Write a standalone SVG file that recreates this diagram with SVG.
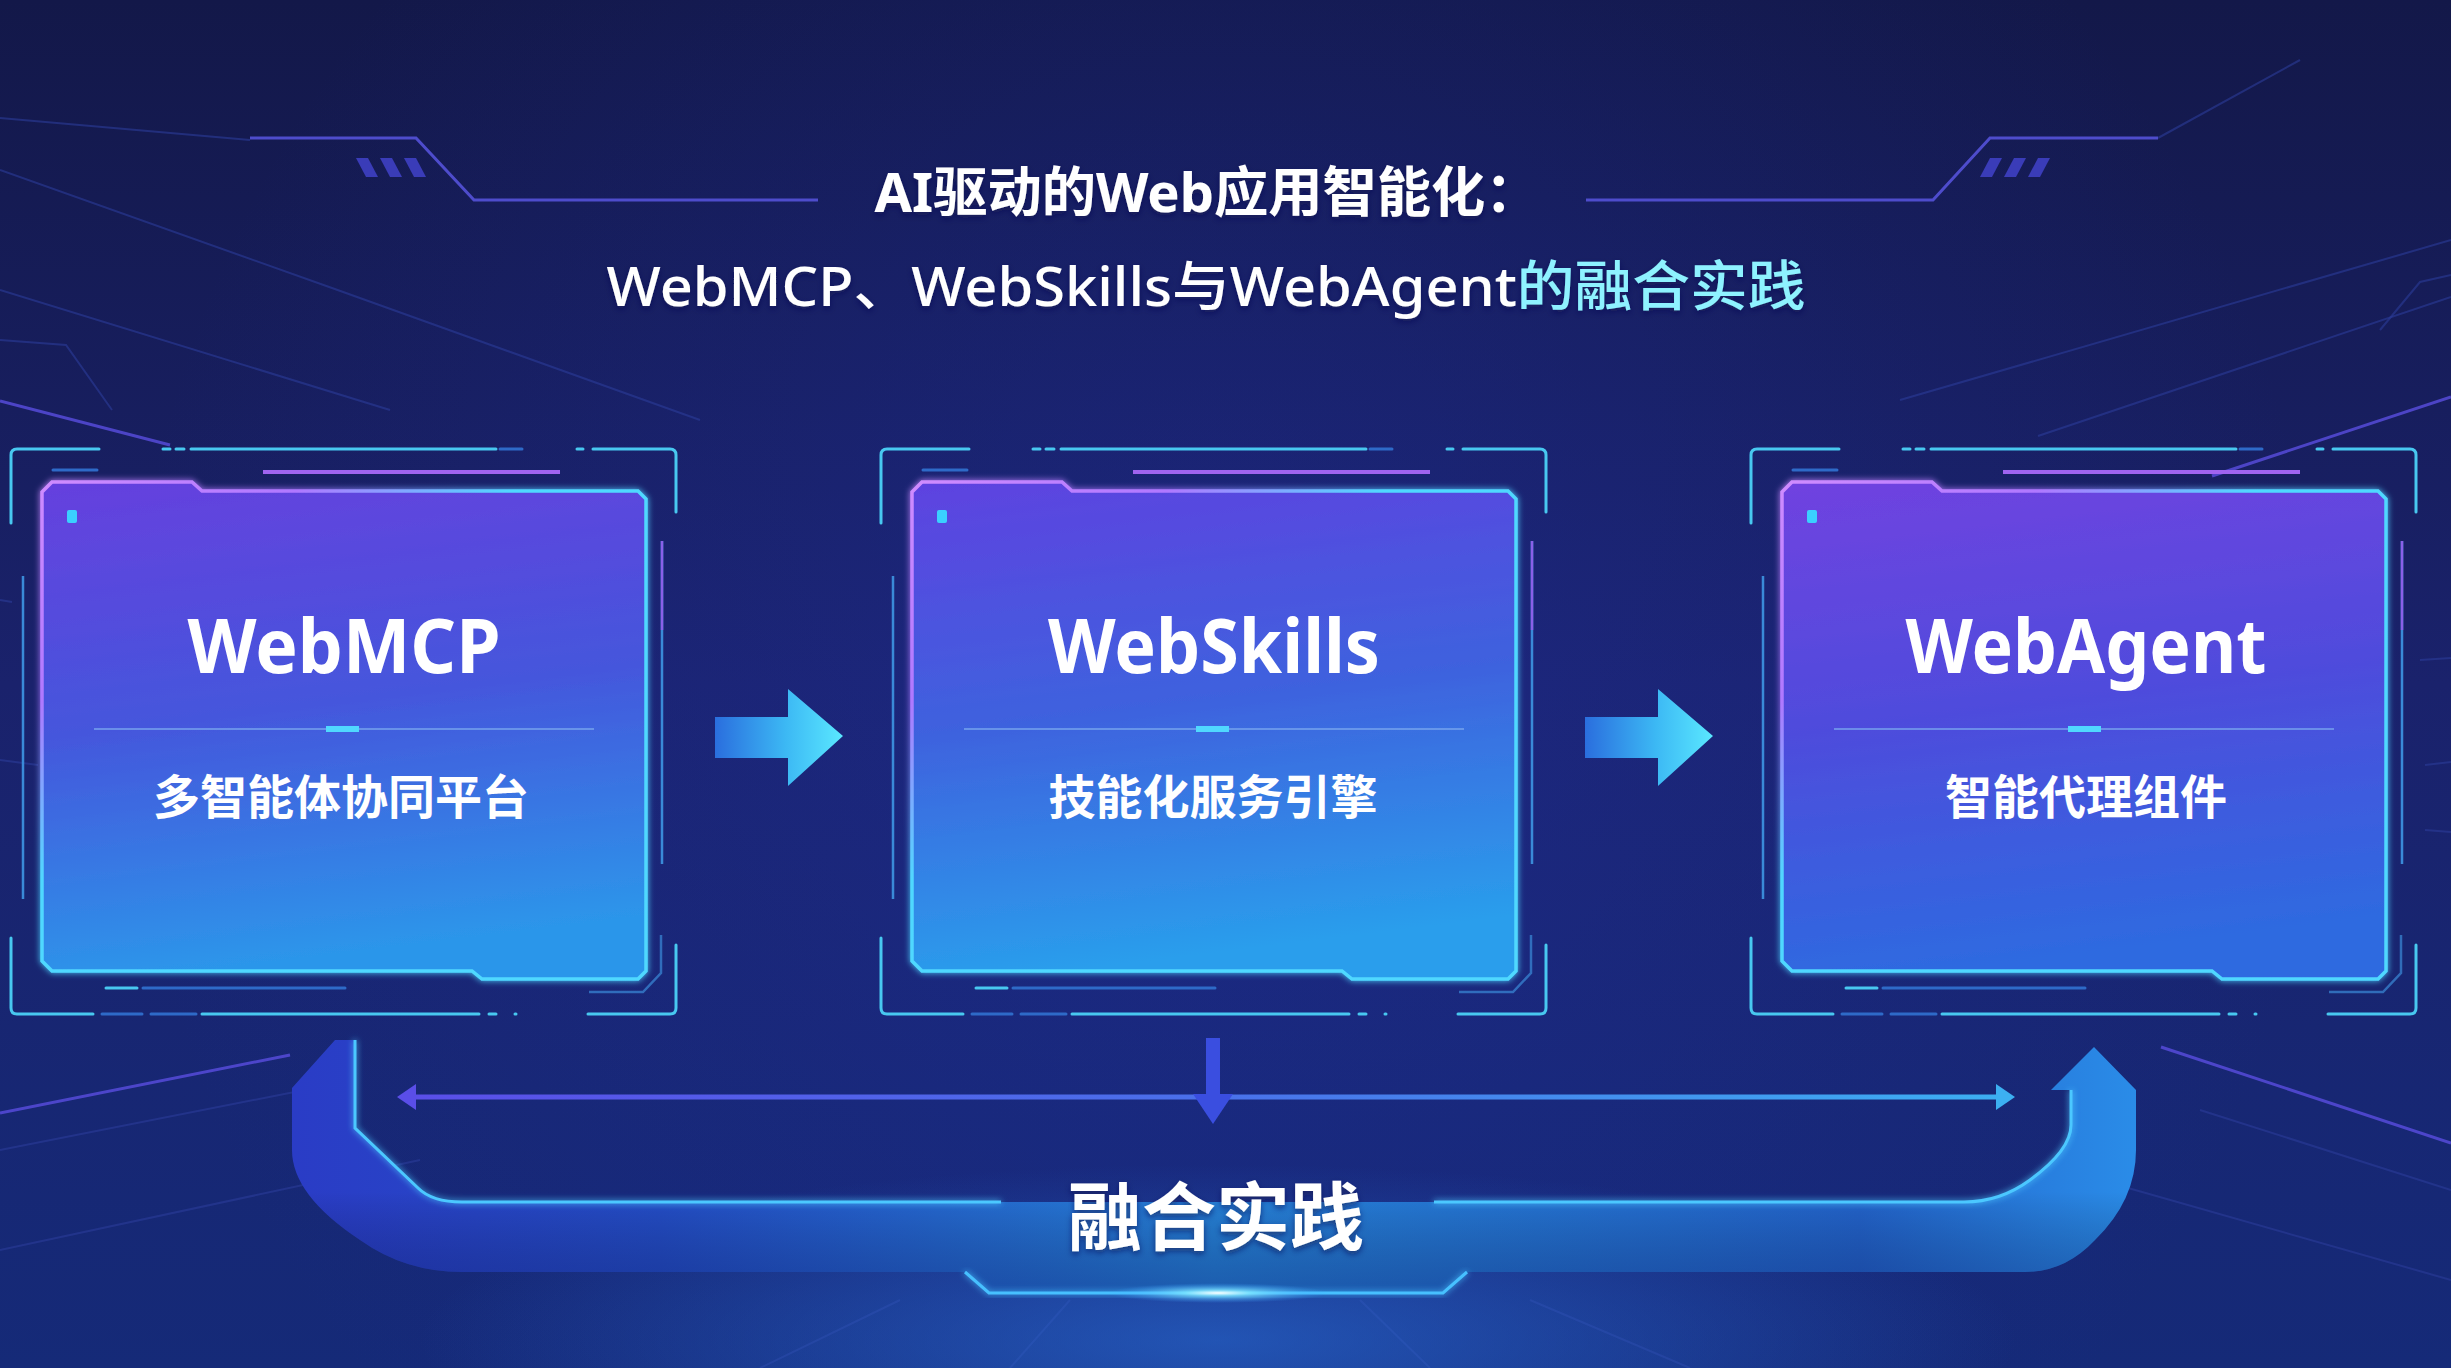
<svg xmlns="http://www.w3.org/2000/svg" width="2451" height="1368" viewBox="0 0 2451 1368">
<defs>
<linearGradient id="bg" x1="0" y1="0" x2="0" y2="1">
<stop offset="0" stop-color="#131849"/>
<stop offset="0.5" stop-color="#1a226c"/>
<stop offset="1" stop-color="#152a78"/>
</linearGradient>
<radialGradient id="bgGlow" cx="1225" cy="700" r="1100" gradientUnits="userSpaceOnUse">
<stop offset="0" stop-color="#2030a0" stop-opacity="0.4"/>
<stop offset="1" stop-color="#2030a0" stop-opacity="0"/>
</radialGradient>
<radialGradient id="floorGlow" cx="1218" cy="1340" r="800" gradientUnits="userSpaceOnUse" gradientTransform="translate(1218 1340) scale(1 0.22) translate(-1218 -1340)">
<stop offset="0" stop-color="#2a70d8" stop-opacity="0.6"/>
<stop offset="1" stop-color="#2a70d8" stop-opacity="0"/>
</radialGradient>
<radialGradient id="spot" cx="0.5" cy="0.5" r="0.5">
<stop offset="0" stop-color="#ffffff" stop-opacity="1"/>
<stop offset="0.3" stop-color="#7fe6ff" stop-opacity="0.8"/>
<stop offset="1" stop-color="#3aa0ff" stop-opacity="0"/>
</radialGradient>
<linearGradient id="card1" x1="0" y1="0" x2="0.15" y2="1">
<stop offset="0" stop-color="#6640de"/>
<stop offset="0.5" stop-color="#4556dc"/>
<stop offset="1" stop-color="#2c96ea"/>
</linearGradient>
<linearGradient id="card2" x1="0" y1="0" x2="0.15" y2="1">
<stop offset="0" stop-color="#5e42e0"/>
<stop offset="0.5" stop-color="#3e62de"/>
<stop offset="1" stop-color="#2a9eec"/>
</linearGradient>
<linearGradient id="card3" x1="0" y1="0" x2="0.15" y2="1">
<stop offset="0" stop-color="#7042e0"/>
<stop offset="0.5" stop-color="#4e4cdc"/>
<stop offset="1" stop-color="#2e6ae0"/>
</linearGradient>
<linearGradient id="cardStroke" x1="0" y1="0" x2="1" y2="1">
<stop offset="0" stop-color="#d08cff"/>
<stop offset="0.22" stop-color="#b078ff"/>
<stop offset="0.4" stop-color="#50d8ff"/>
<stop offset="1" stop-color="#50d8ff"/>
</linearGradient>
<linearGradient id="arrowFill" x1="0" y1="0" x2="1" y2="0">
<stop offset="0" stop-color="#2a6ede"/>
<stop offset="0.55" stop-color="#3cb8f4"/>
<stop offset="1" stop-color="#5ae8ff"/>
</linearGradient>
<linearGradient id="uFill" x1="292" y1="0" x2="2136" y2="0" gradientUnits="userSpaceOnUse">
<stop offset="0" stop-color="#2a3cc6"/>
<stop offset="0.2" stop-color="#244ec8"/>
<stop offset="0.5" stop-color="#2682da"/>
<stop offset="0.85" stop-color="#2364cc"/>
<stop offset="1" stop-color="#2a8ce8"/>
</linearGradient>
<linearGradient id="uShade" x1="0" y1="1040" x2="0" y2="1293" gradientUnits="userSpaceOnUse">
<stop offset="0" stop-color="#000" stop-opacity="0"/>
<stop offset="0.6" stop-color="#000" stop-opacity="0"/>
<stop offset="1" stop-color="#0a1660" stop-opacity="0.35"/>
</linearGradient>
<linearGradient id="hLine" x1="397" y1="0" x2="2015" y2="0" gradientUnits="userSpaceOnUse">
<stop offset="0" stop-color="#5a4ee8"/>
<stop offset="0.5" stop-color="#4a70ea"/>
<stop offset="1" stop-color="#3cb0f2"/>
</linearGradient>
<filter id="glow" x="-20%" y="-20%" width="140%" height="140%">
<feGaussianBlur stdDeviation="3" result="b"/>
<feMerge><feMergeNode in="b"/><feMergeNode in="SourceGraphic"/></feMerge>
</filter>
<filter id="shadow" x="-20%" y="-20%" width="140%" height="140%">
<feDropShadow dx="0" dy="3" stdDeviation="3" flood-color="#0a1450" flood-opacity="0.6"/>
</filter>
<style>
.bgl{fill:none;stroke:#2c3c9a;stroke-width:2;opacity:0.6}
.bgp{fill:none;stroke:#5a4ee0;stroke-width:3;opacity:0.8}
.deco{fill:none;stroke:#4e4ccc;stroke-width:3}
.hash{fill:#3a3cb8}
.fr{fill:none;stroke:#48c8f0;stroke-width:3;stroke-linecap:round}
.frd{fill:none;stroke:#2e6ac8;stroke-width:3;stroke-linecap:round}
.frv{fill:none;stroke:#3a8ad8;stroke-width:2.5}
.frp{fill:none;stroke:#a064f0;stroke-width:4}
.card{stroke:url(#cardStroke);stroke-width:3.5}
.sep{stroke:#7aa8f0;stroke-width:2;opacity:0.7}
.bar{fill:#50d8ff}
.ttl{font-family:"Noto Sans","Noto Sans CJK SC",sans-serif;font-weight:700;fill:#ffffff;text-anchor:middle}
.sub{font-family:"Noto Sans CJK SC","Noto Sans",sans-serif;font-weight:700;fill:#ffffff;text-anchor:middle}
</style>
<g id="frameDeco">
<path class="fr" d="M11,523 V455 Q11,449 17,449 H99"/>
<path class="fr" d="M163,449 H170 M176,449 H184 M577,449 H583"/>
<path class="fr" d="M191,449 H496"/>
<path class="frd" d="M500,449 H522"/>
<path class="fr" d="M593,449 H670 Q676,449 676,455 V512"/>
<path class="frd" d="M53,470 H97"/>
<path class="frp" d="M263,472 H560"/>
<path class="frv" d="M23,576 V899"/>
<path class="frv" d="M662,541 V864" stroke="#3ab0e8"/>
<path d="M662,541 V630" stroke="#8a60e8" stroke-width="2.5" fill="none"/>
<path class="frv" d="M661,935 V973 L643,992 H589" opacity="0.7"/>
<path class="fr" d="M11,938 V1008 Q11,1014 17,1014 H93"/>
<path class="frd" d="M102,1014 H142 M151,1014 H196"/>
<path class="fr" d="M202,1014 H479 M489,1014 H496 M515,1014 H516"/>
<path class="fr" d="M588,1014 H670 Q676,1014 676,1008 V945"/>
<path class="fr" d="M106,988 H137"/>
<path class="frd" d="M143,988 H345"/>
</g>
<path id="cardShape" d="M42,492 L52,482 L192,482 L202,491 L638,491 L646,499 L646,971 L638,979 L482,979 L472,971 L52,971 L42,961 Z"/>
</defs>

<!-- background -->
<rect width="2451" height="1368" fill="url(#bg)"/>
<rect width="2451" height="1368" fill="url(#bgGlow)"/>
<g id="background-lines">
<path class="bgl" d="M0,118 L250,140"/>
<path class="bgl" d="M0,170 L332,288 L700,420"/>
<path class="bgl" d="M0,290 L390,410"/>
<path class="bgl" d="M0,340 L66,345 L112,410"/>
<path class="bgp" d="M0,401 L170,445"/>
<path class="bgl" d="M0,600 L12,602 M0,760 L38,765"/>
<path class="bgp" d="M0,1113 L290,1055" opacity="0.6"/>
<path class="bgl" d="M0,1150 L330,1085"/>
<path class="bgl" d="M0,1250 L420,1160"/>
<path class="bgl" d="M2158,138 L2300,60"/>
<path class="bgl" d="M2451,297 L2038,436"/>
<path class="bgl" d="M2451,240 L1900,400"/>
<path class="bgl" d="M2451,275 L2420,282 L2380,330"/>
<path class="bgp" d="M2451,397 L2212,476"/>
<path class="bgl" d="M2420,660 L2451,658 M2425,765 L2451,762 M2425,830 L2451,832"/>
<path class="bgp" d="M2451,1143 L2161,1047" opacity="0.6"/>
<path class="bgl" d="M2451,1190 L2200,1110"/>
<path class="bgl" d="M2451,1280 L2100,1180"/>
<path class="bgl" d="M1070,1300 L1010,1368 M1360,1300 L1430,1368 M900,1300 L760,1368 M1530,1300 L1690,1368" opacity="0.4"/>
</g>
<rect width="2451" height="1368" fill="url(#floorGlow)"/>

<!-- title -->
<g id="title">
<path class="deco" d="M250,138 H416 L474,200 H818"/>
<path class="deco" d="M1586,200 H1933 L1990,138 H2158"/>
<polygon class="hash" points="356,158 368,158 378,177 366,177"/>
<polygon class="hash" points="380,158 392,158 402,177 390,177"/>
<polygon class="hash" points="404,158 416,158 426,177 414,177"/>
<polygon class="hash" points="1990,158 2002,158 1992,177 1980,177"/>
<polygon class="hash" points="2014,158 2026,158 2016,177 2004,177"/>
<polygon class="hash" points="2038,158 2050,158 2040,177 2028,177"/>
<text x="1207" y="212" font-family="'Noto Sans','Noto Sans CJK SC',sans-serif" font-size="54" font-weight="700" fill="#ffffff" text-anchor="middle" textLength="665" lengthAdjust="spacingAndGlyphs" filter="url(#shadow)">AI驱动的Web应用智能化：</text>
<text x="1206" y="306" font-family="'Noto Sans','Noto Sans CJK SC',sans-serif" font-size="54" font-weight="500" fill="#ffffff" text-anchor="middle" textLength="1199" lengthAdjust="spacingAndGlyphs" filter="url(#shadow)">WebMCP、WebSkills与WebAgent<tspan fill="#8ef2ff">的融合实践</tspan></text>
</g>

<!-- nodes -->
<g id="node-webmcp">
<use href="#frameDeco"/>
<use href="#cardShape" fill="url(#card1)" class="card" filter="url(#glow)"/>
<rect x="67" y="510" width="10" height="13" rx="2" fill="#3ad0ff"/>
<text class="ttl" x="344" y="673" font-size="76" textLength="313" lengthAdjust="spacingAndGlyphs">WebMCP</text>
<line class="sep" x1="94" y1="729" x2="594" y2="729"/>
<rect class="bar" x="326" y="726" width="33" height="6"/>
<text class="sub" x="341" y="814" font-size="47">多智能体协同平台</text>
</g>

<g id="node-webskills">
<use href="#frameDeco" transform="translate(870 0)"/>
<use href="#cardShape" transform="translate(870 0)" fill="url(#card2)" class="card" filter="url(#glow)"/>
<rect x="937" y="510" width="10" height="13" rx="2" fill="#3ad0ff"/>
<text class="ttl" x="1214" y="673" font-size="76" textLength="332" lengthAdjust="spacingAndGlyphs">WebSkills</text>
<line class="sep" x1="964" y1="729" x2="1464" y2="729"/>
<rect class="bar" x="1196" y="726" width="33" height="6"/>
<text class="sub" x="1213" y="814" font-size="47">技能化服务引擎</text>
</g>

<g id="node-webagent">
<use href="#frameDeco" transform="translate(1740 0)"/>
<use href="#cardShape" transform="translate(1740 0)" fill="url(#card3)" class="card" filter="url(#glow)"/>
<rect x="1807" y="510" width="10" height="13" rx="2" fill="#3ad0ff"/>
<text class="ttl" x="2086" y="673" font-size="76" textLength="361" lengthAdjust="spacingAndGlyphs">WebAgent</text>
<line class="sep" x1="1834" y1="729" x2="2334" y2="729"/>
<rect class="bar" x="2068" y="726" width="33" height="6"/>
<text class="sub" x="2086" y="814" font-size="47">智能代理组件</text>
</g>

<!-- connectors -->
<g id="connectors">
<path d="M715,717 H788 V689 L843,736 L788,786 V758 H715 Z" fill="url(#arrowFill)"/>
<path d="M1585,717 H1658 V689 L1713,736 L1658,786 V758 H1585 Z" fill="url(#arrowFill)"/>
<g id="fusion-loop">
<path d="M335,1040 L355,1040 L355,1128 L418,1188 Q432,1202 462,1202 L1964,1202 Q2000,1202 2030,1180 Q2071,1150 2071,1125 L2071,1090 L2051,1090 L2094,1047 L2136,1090 L2136,1150 Q2136,1200 2095,1240 Q2065,1272 2025,1272 L1467,1272 L1443,1293 L989,1293 L965,1272 L462,1272 Q405,1272 360,1240 Q292,1195 292,1150 L292,1088 Z" fill="url(#uFill)"/>
<path d="M335,1040 L355,1040 L355,1128 L418,1188 Q432,1202 462,1202 L1964,1202 Q2000,1202 2030,1180 Q2071,1150 2071,1125 L2071,1090 L2051,1090 L2094,1047 L2136,1090 L2136,1150 Q2136,1200 2095,1240 Q2065,1272 2025,1272 L1467,1272 L1443,1293 L989,1293 L965,1272 L462,1272 Q405,1272 360,1240 Q292,1195 292,1150 L292,1088 Z" fill="url(#uShade)"/>
<path d="M355,1040 L355,1128 L418,1188 Q432,1202 462,1202 L1001,1202 M1434,1202 L1964,1202 Q2000,1202 2030,1180 Q2071,1150 2071,1125 L2071,1090" fill="none" stroke="#4cc8ff" stroke-width="3" filter="url(#glow)"/>
<path d="M965,1272 L989,1293 L1443,1293 L1467,1272" fill="none" stroke="#46c0ff" stroke-width="3" filter="url(#glow)"/>
<ellipse cx="1218" cy="1293" rx="110" ry="10" fill="url(#spot)"/>
</g>
<line x1="412" y1="1097" x2="2000" y2="1097" stroke="url(#hLine)" stroke-width="5"/>
<polygon points="397,1097 416,1084 416,1110" fill="#5a4ee8"/>
<polygon points="2015,1097 1996,1084 1996,1110" fill="#3cb0f2"/>
<rect x="1206" y="1038" width="14" height="58" fill="#3a4ee0"/>
<polygon points="1193,1094 1233,1094 1213,1124" fill="#3a4ee0"/>
</g>

<g id="node-fusion">
<text x="1216" y="1244" font-family="'Noto Sans CJK SC',sans-serif" font-size="74" font-weight="700" fill="#ffffff" text-anchor="middle" filter="url(#shadow)">融合实践</text>
</g>
</svg>
